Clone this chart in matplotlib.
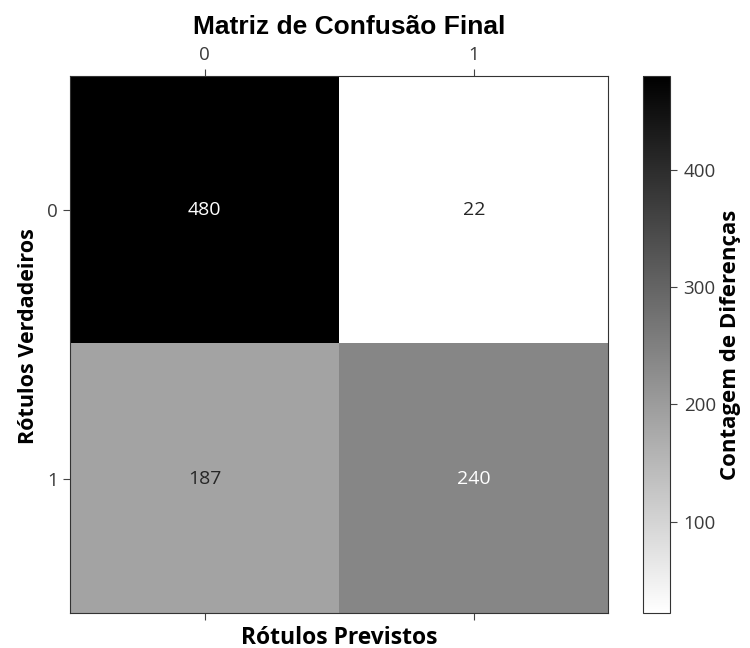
import numpy as np
import matplotlib
matplotlib.use("Agg")
import matplotlib.pyplot as plt

# confusion matrix values
true_labels = ["0", "1"]
pred_labels = ["0", "1"]
counts = np.array([[480, 22],
                   [187, 240]])
cbar_ticks = [100, 200, 300, 400]

lab_font = ['Open Sans', 'DejaVu Sans']
plt.rcParams['font.family'] = lab_font

fig = plt.figure(figsize=(7.5, 6.48), dpi=100)
ax = fig.add_axes([0.0933, 0.054, 0.718, 0.829])
cax = fig.add_axes([0.857, 0.054, 0.036, 0.829])

im = ax.imshow(counts, cmap='binary', aspect='auto',
               vmin=counts.min(), vmax=counts.max())

thresh = counts.max() / 2
for i in range(counts.shape[0]):
    for j in range(counts.shape[1]):
        ax.text(j, i, str(counts[i, j]), ha='center', va='center',
                fontsize=14, color='white' if counts[i, j] >= thresh else '#262626')

ax.set_xticks(range(len(pred_labels)))
ax.set_xticklabels(pred_labels)
ax.set_yticks(range(len(true_labels)))
ax.set_yticklabels(true_labels)
ax.tick_params(top=True, labeltop=True, bottom=True, labelbottom=False,
               labelsize=13.5, labelcolor='#3a3a3a', color='#444444', length=5)
for s in ax.spines.values():
    s.set_color('#333333')

ax.set_xlabel('Rótulos Previstos', fontsize=16.5, fontweight='bold', labelpad=4)
ax.set_ylabel('Rótulos Verdadeiros', fontsize=15.5, fontweight='bold', labelpad=6)
ax.yaxis.label.set_y(0.515)
ax.set_title('Matriz de Confusão Final', fontsize=19, fontweight='bold',
             family=['Liberation Sans', 'DejaVu Sans'], x=0.518, pad=30)

cb = fig.colorbar(im, cax=cax)
cb.set_ticks(cbar_ticks)
cb.ax.tick_params(labelsize=13.5, labelcolor='#3a3a3a', color='#444444', length=5, pad=5)
cb.outline.set_edgecolor('#333333')
cb.set_label('Contagem de Diferenças', fontsize=16, fontweight='bold', labelpad=3)

fig.savefig('out.png', dpi=100)
